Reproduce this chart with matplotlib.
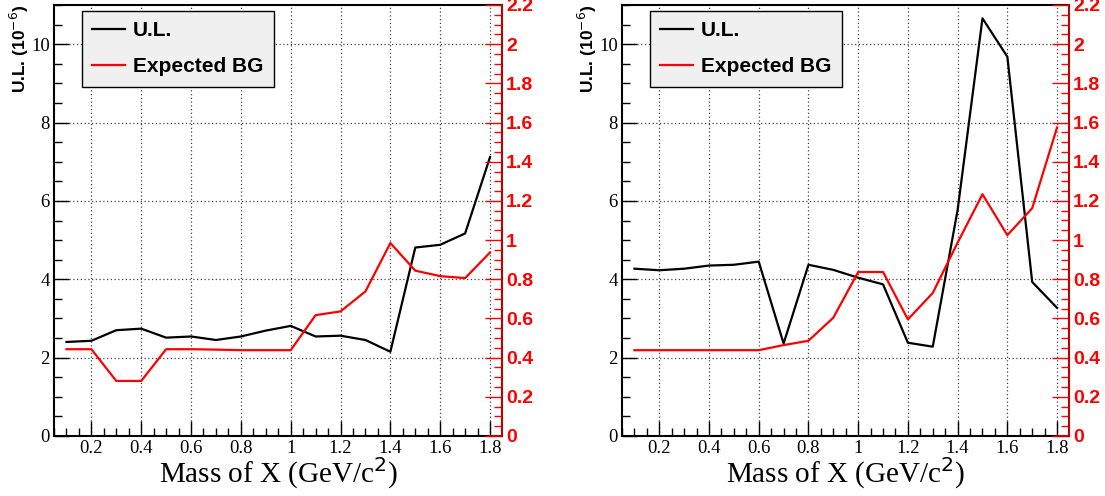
import matplotlib
matplotlib.use("Agg")
import matplotlib.pyplot as plt
from matplotlib.ticker import MultipleLocator, FormatStrFormatter

mass = [0.1, 0.2, 0.3, 0.4, 0.5, 0.6, 0.7, 0.8, 0.9, 1.0,
        1.1, 1.2, 1.3, 1.4, 1.5, 1.6, 1.7, 1.8]

# left panel
ul_left = [2.40, 2.43, 2.70, 2.74, 2.51, 2.54, 2.45, 2.54, 2.69, 2.81,
           2.54, 2.56, 2.45, 2.15, 4.81, 4.88, 5.17, 7.12]
bg_left = [0.443, 0.443, 0.281, 0.281, 0.443, 0.443, 0.441, 0.438, 0.438, 0.438,
           0.617, 0.636, 0.738, 0.985, 0.844, 0.816, 0.806, 0.937]

# right panel
ul_right = [4.27, 4.23, 4.27, 4.35, 4.37, 4.45, 2.36, 4.37, 4.24, 4.04,
            3.87, 2.38, 2.28, 5.77, 10.66, 9.68, 3.93, 3.27]
bg_right = [0.438, 0.438, 0.438, 0.438, 0.438, 0.438, 0.464, 0.486, 0.604, 0.837,
            0.837, 0.595, 0.730, 0.987, 1.234, 1.025, 1.163, 1.575]

x_ticks = [0.2, 0.4, 0.6, 0.8, 1.0, 1.2, 1.4, 1.6, 1.8]
x_lo, x_hi, x_last = 0.05, 1.848, 1.8

serif = ["Liberation Serif", "DejaVu Serif"]
sans = ["Liberation Sans", "DejaVu Sans"]
dark_red = "#c00000"

W, H = 1105, 496
fig = plt.figure(figsize=(W / 100, H / 100), dpi=100)


def panel(left_px, right_px, ul, bg):
    ax = fig.add_axes([left_px / W, (H - 436) / H, (right_px - left_px) / W, 431 / H])
    ax.plot(mass, ul, color="black", lw=1.6, label="U.L.")
    ax.set_xlim(x_lo, x_hi)
    ax.set_ylim(0, 11)
    ax.set_xticks(x_ticks)
    ax.xaxis.set_minor_locator(MultipleLocator(0.05))
    ax.yaxis.set_major_locator(MultipleLocator(2))
    ax.yaxis.set_minor_locator(MultipleLocator(0.5))
    ax.xaxis.set_major_formatter(FormatStrFormatter("%g"))
    ax.tick_params(which="both", direction="in", labelsize=13.5, pad=3)
    ax.tick_params(which="major", length=11, width=1)
    ax.tick_params(which="minor", length=6, width=1)
    for lbl in ax.get_xticklabels() + ax.get_yticklabels():
        lbl.set_family(serif)
    ax.grid(True, which="major", color="#444444", linestyle=(0, (1, 2)), lw=0.9)
    for s in ax.spines.values():
        s.set_linewidth(1.5)
    ax.spines["bottom"].set_bounds(x_lo, x_last)
    ax.spines["right"].set_visible(False)
    ax.set_xlabel("Mass of X (GeV/c$^{2}$)", family=serif, fontsize=21)
    ax.xaxis.set_label_coords(0.5, -0.045)

    ax2 = ax.twinx()
    ax2.plot(mass, bg, color="red", lw=1.6, label="Expected BG")
    ax2.set_ylim(0, 2.2)
    ax2.yaxis.set_major_locator(MultipleLocator(0.2))
    ax2.yaxis.set_minor_locator(MultipleLocator(0.05))
    ax2.yaxis.set_major_formatter(FormatStrFormatter("%g"))
    ax2.tick_params(which="both", direction="in", colors="red", labelsize=14, pad=3)
    ax2.tick_params(which="major", length=12, width=1)
    ax2.tick_params(which="minor", length=6, width=1)
    for lbl in ax2.get_yticklabels():
        lbl.set_family(sans)
        lbl.set_fontweight("bold")
    for name in ("left", "top"):
        ax2.spines[name].set_visible(False)
    ax2.spines["right"].set_color(dark_red)
    ax2.spines["right"].set_linewidth(1.5)
    ax2.spines["bottom"].set_color(dark_red)
    ax2.spines["bottom"].set_linewidth(1.5)
    ax2.spines["bottom"].set_bounds(x_last, x_hi)

    h1, l1 = ax.get_legend_handles_labels()
    h2, l2 = ax2.get_legend_handles_labels()
    leg = ax2.legend(h1 + h2, l1 + l2, loc="upper left",
                     bbox_to_anchor=(0.0625, 0.986), borderaxespad=0,
                     frameon=True, fancybox=False,
                     prop={"family": sans, "weight": "bold", "size": 15},
                     handlelength=1.55, handletextpad=0.4,
                     borderpad=0.5, labelspacing=0.8)
    leg.get_frame().set_facecolor("#f0f0f0")
    leg.get_frame().set_edgecolor("black")
    leg.get_frame().set_linewidth(1.0)
    leg.get_frame().set_alpha(1)
    return ax


ax_l = panel(54, 502, ul_left, bg_left)
ax_r = panel(622, 1069, ul_right, bg_right)

for x_px in (19, 587):
    fig.text(x_px / W, 1 - 5 / H, "U.L. (10$^{-6}$)", rotation=90,
             ha="center", va="top", family=sans, fontweight="bold", fontsize=12.5)

fig.savefig("out.png", dpi=100)
